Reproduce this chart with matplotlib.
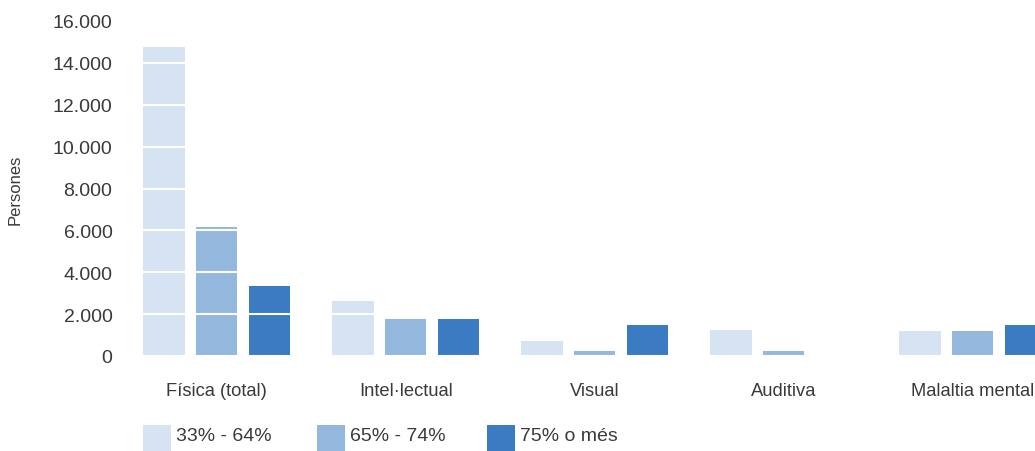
import matplotlib
matplotlib.use("Agg")
import matplotlib.pyplot as plt
from matplotlib.patches import Rectangle
import numpy as np

plt.rcParams['font.family'] = ['Liberation Sans', 'DejaVu Sans']

categories = ["Física (total)", "Intel·lectual", "Visual", "Auditiva", "Malaltia mental"]
series_names = ["33% - 64%", "65% - 74%", "75% o més"]
grau_33_64 = [14750, 2650, 730, 1230, 1180]
grau_65_74 = [6150, 1750, 220, 220, 1180]
grau_75 = [3350, 1750, 1480, 40, 1480]
series = [grau_33_64, grau_65_74, grau_75]
colors = ['#d5e3f3', '#93b7dd', '#3a7bc1']
yticks = [0, 2000, 4000, 6000, 8000, 10000, 12000, 14000, 16000]
ytick_labels = ["0", "2.000", "4.000", "6.000", "8.000", "10.000", "12.000", "14.000", "16.000"]

txt = '#3a3a3a'
W, H = 1035, 452
fig = plt.figure(figsize=(W / 100, H / 100), dpi=100)
ax = fig.add_axes([143 / W, 95 / H, 1 - 143 / W, 335 / H])

x = np.arange(len(categories))
width = 0.22
step = 0.28
for i, (vals, c) in enumerate(zip(series, colors)):
    ax.bar(x + (i - 1) * step, vals, width, color=c, zorder=2)

ax.set_ylim(0, 16000)
ax.set_xlim(-0.39, 4.33)
ax.set_yticks(yticks)
ax.set_yticklabels(ytick_labels)
ax.yaxis.grid(True, color='white', linewidth=1.5, zorder=3)
ax.set_axisbelow(False)
ax.set_xticks(x)
ax.set_xticklabels(categories, fontsize=13.2, color=txt)
ax.tick_params(axis='x', length=0, pad=19)
ax.tick_params(axis='y', length=0, pad=22, labelsize=14, labelcolor=txt)
for s in ax.spines.values():
    s.set_visible(False)

fig.text(15 / W, 1 - 190 / H, "Persones", rotation=90, ha='center', va='center',
         fontsize=12, color=txt)

# legend drawn by hand, patches run off the bottom edge
leg_x = [143, 317, 487]
for lx, name, c in zip(leg_x, series_names, colors):
    fig.add_artist(Rectangle((lx / W, 0), 28 / W, 26 / H, transform=fig.transFigure,
                             facecolor=c, edgecolor='none'))
    fig.text((lx + 33) / W, 1 - 437 / H, name, ha='left', va='center',
             fontsize=14, color=txt)

fig.savefig("out.png", dpi=100)
